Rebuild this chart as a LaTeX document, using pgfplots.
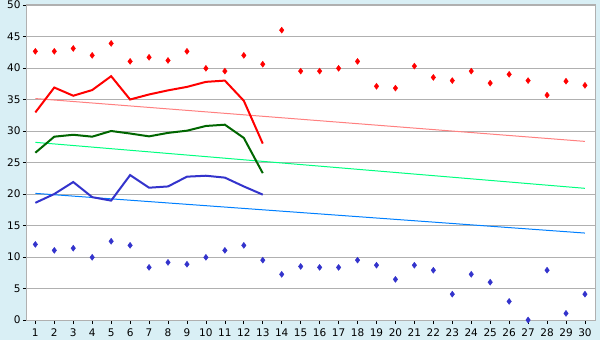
\documentclass[border=0pt]{standalone}
\usepackage{pgfplots}
\pgfplotsset{compat=1.18}
\usepackage{fontspec}
\setmainfont{DejaVu Sans}
\definecolor{bgc}{HTML}{D9EFF5}
\definecolor{gridc}{HTML}{B0B0B0}
\definecolor{redl}{HTML}{FF0000}
\definecolor{redt}{HTML}{FF8080}
\definecolor{greenl}{HTML}{006600}
\definecolor{greent}{HTML}{00FF80}
\definecolor{bluel}{HTML}{3333CC}
\definecolor{bluet}{HTML}{0080FF}
\begin{document}
\begin{tikzpicture}
\useasboundingbox (0,0) rectangle (600bp,340bp);
\fill[bgc] (0,0) rectangle (600bp,340bp);
\begin{axis}[
  at={(27bp,20bp)}, anchor=south west,
  scale only axis, width=568bp, height=315bp,
  xmin=0.56, xmax=30.53, ymin=0, ymax=50,
  xtick={1,...,30}, ytick={0,5,...,50},
  axis background/.style={fill=white},
  axis line style={gridc, line width=1bp},
  ymajorgrids, grid style={gridc, line width=0.8bp},
  tick style={black, line width=0.7bp},
  major tick length=4bp,
  tick align=outside,
  xtick pos=bottom, ytick pos=left,
  tick label style={font=\fontsize{10.5bp}{12bp}\selectfont, text=black},
  /pgf/number format/assume math mode=true,
  xticklabel style={yshift=-1bp},
  yticklabel style={xshift=1bp},
  clip=false,
]
% trend lines
\addplot[redt, line width=1bp] coordinates {(1,35.15) (30,28.35)};
\addplot[greent, line width=1bp] coordinates {(1,28.2) (30,20.9)};
\addplot[bluet, line width=1bp] coordinates {(1,20.1) (30,13.8)};
% thick lines
\addplot[redl, line width=2bp] coordinates {
(1,32.95) (2,36.9) (3,35.6) (4,36.5) (5,38.7) (6,35.0) (7,35.8) (8,36.45) (9,37.0) (10,37.8) (11,38.0) (12,34.8) (13,28.0)};
\addplot[greenl, line width=2bp] coordinates {
(1,26.55) (2,29.1) (3,29.4) (4,29.1) (5,30.0) (6,29.6) (7,29.15) (8,29.7) (9,30.05) (10,30.8) (11,31.0) (12,28.9) (13,23.3)};
\addplot[bluel, line width=2bp] coordinates {
(1,18.6) (2,20.0) (3,21.9) (4,19.5) (5,18.95) (6,23.0) (7,21.0) (8,21.2) (9,22.75) (10,22.9) (11,22.6) (12,21.2) (13,19.9)};
% diamonds
\addplot[only marks, mark=diamond*, mark size=3bp, redl] coordinates {
(1,42.65) (2,42.65) (3,43.1) (4,42.0) (5,43.9) (6,41.05) (7,41.7) (8,41.2) (9,42.65) (10,39.95)
(11,39.5) (12,42.0) (13,40.6) (14,46.0) (15,39.5) (16,39.5) (17,39.95) (18,41.05) (19,37.1) (20,36.8)
(21,40.3) (22,38.5) (23,38.0) (24,39.5) (25,37.6) (26,39.0) (27,38.0) (28,35.7) (29,37.9) (30,37.25)};
\addplot[only marks, mark=diamond*, mark size=3bp, bluel] coordinates {
(1,12.0) (2,11.05) (3,11.4) (4,9.95) (5,12.5) (6,11.85) (7,8.35) (8,9.15) (9,8.85) (10,9.95)
(11,11.05) (12,11.85) (13,9.5) (14,7.25) (15,8.5) (16,8.35) (17,8.35) (18,9.5) (19,8.7) (20,6.45)
(21,8.7) (22,7.9) (23,4.1) (24,7.25) (25,6.0) (26,2.95) (27,0.0) (28,7.9) (29,1.05) (30,4.1)};
\end{axis}
\end{tikzpicture}
\end{document}
